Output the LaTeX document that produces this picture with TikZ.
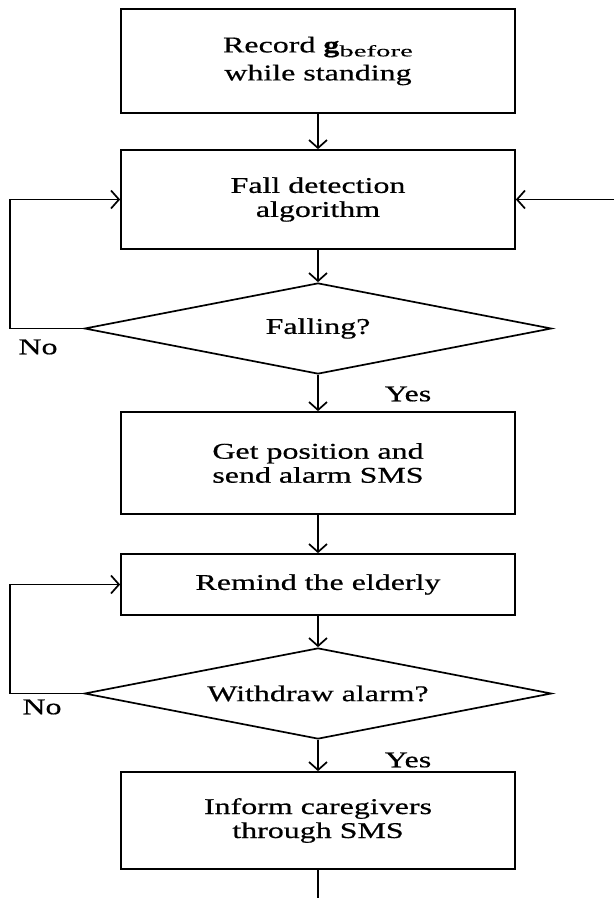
\documentclass[tikz,border=0pt]{standalone}
\usepackage{fontspec}
\setmainfont{Liberation Serif}[FakeStretch=1.42,FakeBold=0.6]
\newfontfamily\subfont{Liberation Serif}[FakeStretch=1.8,FakeBold=0.2]
\usetikzlibrary{arrows.meta,shapes.geometric}
\tikzset{
  stepbox/.style={draw, line width=1.7pt, minimum width=394pt, inner sep=0pt, align=center,
    font=\fontsize{22.5}{24}\selectfont},
  decision/.style={draw, diamond, line width=1.7pt, aspect=5, minimum width=467pt, minimum height=91pt,
    inner sep=0pt, align=center, font=\fontsize{22.5}{24}\selectfont},
  arr/.style={line width=1.7pt, -{Straight Barb[length=8pt,width=18pt,line width=1.7pt]}},
  plain/.style={line width=1.7pt},
  lab/.style={inner sep=0pt, font=\fontsize{22.5}{24}\selectfont}
}
\begin{document}
\begin{tikzpicture}[x=1pt,y=-1pt]
\useasboundingbox (0,0) rectangle (614,898);
\node[stepbox, minimum height=104pt] (b1) at (318,61) {Record \textbf{g}\raisebox{-4pt}{\subfont\fontsize{16}{18}\selectfont before}\\[4pt] while standing};
\node[stepbox, minimum height=99pt] (b2) at (318,199.5) {Fall detection\\ algorithm};
\node[decision] (d1) at (318,328.5) {Falling?};
\node[stepbox, minimum height=102pt] (b3) at (318,463) {Get position and\\ send alarm SMS};
\node[stepbox, minimum height=61pt] (b4) at (318,584.5) {Remind the elderly};
\node[decision] (d2) at (318,693.5) {Withdraw alarm?};
\node[stepbox, minimum height=97pt] (b5) at (318,820.5) {Inform caregivers\\ through SMS};
\node[lab] (no1) at (38,347) {No};
\node[lab] (yes1) at (408,394) {Yes};
\node[lab] (no2) at (42,707) {No};
\node[lab] (yes2) at (408,760) {Yes};
\coordinate (ext) at (614,199.5);
\coordinate (fin) at (318,898);
\draw[arr] (b1) -- (b2);
\draw[arr] (b2) -- (d1);
\draw[arr] (d1) -- (b3);
\draw[arr] (b3) -- (b4);
\draw[arr] (b4) -- (d2);
\draw[arr] (d2) -- (b5);
\draw[plain] (b5) -- (fin);
\draw[arr] (ext) -- (b2.east);
\draw[arr] (d1.west) -- ++(-74,0) |- (b2.west);
\draw[arr] (d2.west) -- ++(-74,0) |- (b4.west);
\end{tikzpicture}
\end{document}
